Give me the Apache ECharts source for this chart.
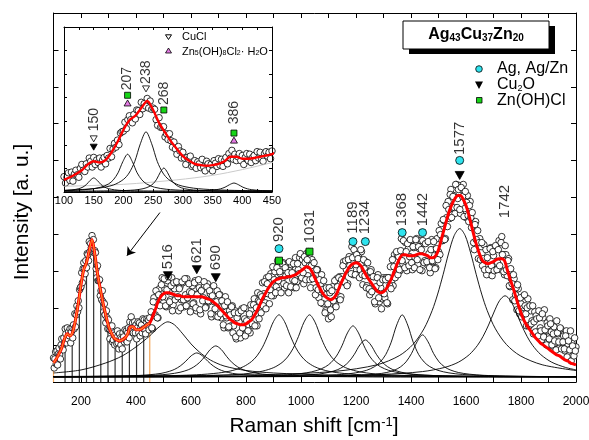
<!DOCTYPE html>
<html>
<head>
<meta charset="utf-8">
<script src="https://cdn.jsdelivr.net/npm/echarts@6/dist/echarts.min.js"></script>
<style>
  html, body { margin: 0; padding: 0; background: #fff; }
  #chart { width: 589px; height: 440px; }
</style>
</head>
<body>
<div id="chart"></div>
<script>
// intensity in plot pixels (a. u.), baseline at the bottom axis
const FONT = 'Liberation Sans, Arial, Helvetica, sans-serif';

// fitted envelope (red), 100..2000 step 10
const fitStart = 100, fitStep = 10;
const fitCounts = [
  19, 23, 28, 34, 43, 48, 46, 50, 62, 78,
  97, 112, 119, 131, 142, 128, 108, 93, 79, 67,
  56, 49, 44, 42, 41, 42, 44, 48, 55, 55,
  52, 52, 53, 55, 57, 59, 65, 72, 80, 85,
  88, 89, 89, 88, 87, 86, 86, 85, 85, 85,
  85, 85, 85, 85, 85, 84, 83, 82, 80, 78,
  75, 72, 69, 66, 63, 61, 59, 58, 57, 57,
  58, 60, 62, 66, 71, 77, 83, 88, 93, 97,
  100, 102, 103, 104, 104, 105, 105, 106, 107, 109,
  111, 113, 115, 114, 110, 104, 98, 93, 88, 85,
  83, 82, 84, 88, 95, 101, 107, 112, 116, 118,
  119, 118, 115, 110, 105, 101, 97, 93, 90, 89,
  90, 93, 98, 104, 111, 118, 124, 127, 127, 126,
  126, 126, 127, 128, 128, 127, 126, 124, 124, 126,
  132, 142, 152, 162, 171, 178, 183, 186, 186, 182,
  176, 167, 156, 145, 135, 127, 121, 119, 118, 119,
  120, 122, 123, 123, 121, 112, 103, 95, 86, 77,
  69, 62, 57, 53, 49, 45, 42, 39, 37, 35,
  33, 31, 29, 27, 26, 24, 22, 21, 19, 18,
  17
];

// measured points, 100..450 step 2.5
const lowStart = 100, lowStep = 2.5;
const lowCounts = [
  24, 14, 23, 30, 18, 31, 17, 28, 34, 27, 23, 37, 43, 34, 32, 44,
  39, 53, 48, 39, 54, 43, 50, 46, 53, 39, 50, 54, 44, 57, 53, 68,
  55, 67, 76, 70, 81, 74, 92, 94, 95, 109, 99, 113, 119, 113, 108, 121,
  114, 128, 127, 121, 140, 130, 138, 134, 146, 131, 142, 129, 131, 129, 113, 104,
  116, 101, 101, 102, 86, 91, 82, 91, 80, 70, 78, 67, 59, 71, 64, 53,
  62, 53, 43, 54, 51, 56, 40, 42, 49, 37, 47, 44, 38, 51, 39, 33,
  48, 44, 37, 43, 33, 49, 45, 40, 52, 42, 51, 40, 49, 54, 44, 60,
  53, 65, 51, 59, 49, 55, 60, 49, 57, 43, 54, 60, 49, 59, 46, 54,
  57, 49, 63, 53, 62, 52, 48, 60, 63, 56, 62, 52,
  64
];

// measured points, 455..2000 step 5
const highStart = 455, highStep = 5;
const highCounts = [
  70, 53, 84, 67, 79, 64, 93, 83, 104, 79,
  93, 75, 101, 90, 82, 104, 77, 93, 84, 99,
  71, 95, 82, 99, 75, 87, 103, 77, 90, 72,
  96, 79, 101, 71, 88, 94, 68, 92, 84, 96,
  75, 98, 80, 88, 65, 90, 80, 66, 91, 70,
  87, 64, 75, 54, 85, 64, 54, 71, 56, 76,
  56, 71, 43, 67, 60, 44, 73, 50, 63, 48,
  73, 57, 49, 72, 56, 83, 68, 56, 81, 80,
  69, 99, 88, 79, 104, 88, 78, 108, 105, 86,
  110, 95, 121, 91, 108, 102, 119, 94, 106, 117,
  89, 111, 117, 102, 94, 124, 100, 112, 124, 105,
  122, 98, 119, 128, 106, 116, 94, 122, 104, 112,
  94, 112, 84, 97, 107, 78, 88, 71, 93, 63,
  89, 65, 95, 81, 77, 103, 86, 105, 85, 105,
  120, 99, 112, 98, 125, 112, 135, 107, 126, 117,
  107, 127, 112, 130, 97, 113, 120, 96, 109, 87,
  112, 93, 105, 78, 93, 107, 80, 94, 83, 104,
  84, 104, 78, 104, 115, 101, 96, 127, 109, 127,
  125, 111, 143, 118, 129, 139, 111, 133, 125, 141,
  112, 134, 124, 143, 117, 133, 141, 111, 138, 121,
  139, 117, 128, 109, 142, 120, 132, 114, 143, 130,
  127, 158, 141, 161, 143, 164, 180, 163, 192, 167,
  186, 168, 197, 183, 196, 168, 192, 197, 173, 164,
  186, 160, 180, 154, 160, 132, 160, 141, 123, 143,
  135, 116, 137, 122, 107, 127, 112, 134, 106, 126,
  112, 135, 119, 141, 112, 145, 127, 107, 127, 106,
  123, 95, 103, 82, 103, 87, 72, 93, 68, 78,
  73, 86, 76, 56, 83, 56, 71, 61, 48, 70,
  66, 50, 71, 54, 42, 64, 72, 45, 59, 45,
  63, 50, 36, 55, 39, 61, 48, 34, 53, 39,
  46, 31, 51, 38, 27, 51, 39, 30, 44, 35
];

// measured points in between, 457.5..1997.5 step 5
const midStart = 457.5, midStep = 5;
const midCounts = [
  54, 80, 66, 91, 64, 87, 76, 97, 85, 103,
  76, 92, 105, 80, 96, 71, 99, 82, 100, 85,
  93, 74, 100, 82, 103, 76, 84, 98, 70, 89,
  78, 99, 74, 87, 102, 72, 91, 81, 100, 74,
  95, 81, 91, 68, 86, 96, 73, 80, 65, 87,
  68, 81, 57, 76, 66, 80, 55, 67, 75, 49,
  69, 45, 64, 69, 49, 71, 54, 74, 46, 61,
  51, 68, 77, 58, 77, 56, 74, 89, 63, 87,
  85, 76, 100, 73, 98, 105, 92, 86, 115, 102,
  89, 114, 101, 110, 89, 118, 98, 114, 96, 109,
  120, 95, 109, 118, 101, 94, 118, 108, 128, 104,
  109, 125, 102, 122, 130, 102, 116, 103, 119, 87,
  112, 92, 102, 79, 92, 101, 69, 94, 78, 94,
  72, 91, 81, 101, 75, 95, 104, 82, 102, 116,
  100, 121, 96, 122, 116, 108, 124, 132, 107, 127,
  123, 104, 132, 107, 122, 106, 94, 119, 93, 110,
  90, 105, 80, 95, 104, 84, 99, 73, 102, 88,
  102, 79, 104, 96, 93, 122, 115, 104, 130, 107,
  112, 131, 121, 141, 114, 130, 138, 116, 142, 119,
  135, 114, 142, 122, 135, 112, 132, 141, 119, 138,
  120, 140, 114, 132, 121, 140, 113, 133, 122, 151,
  147, 141, 162, 142, 176, 155, 172, 187, 164, 185,
  174, 197, 174, 192, 172, 194, 185, 165, 190, 179,
  166, 176, 164, 169, 139, 157, 142, 151, 139, 122,
  139, 123, 112, 132, 124, 112, 133, 116, 130, 111,
  136, 112, 132, 116, 139, 127, 110, 136, 112, 121,
  96, 113, 98, 107, 81, 94, 97, 71, 84, 65,
  68, 87, 68, 74, 56, 76, 58, 76, 60, 50,
  63, 46, 64, 51, 68, 45, 52, 37, 56, 43,
  58, 37, 48, 41, 32, 49, 40, 54, 33, 40,
  33, 46, 25, 41, 32, 21, 36, 26, 31
];

// fitted components (black), [shift, intensity]
const c516 = [[100, 9], [200, 12], [290, 19], [350, 26], [400, 35], [450, 46], [480, 54], [516, 60], [540, 57], [570, 48], [600, 38], [630, 30], [670, 22], [720, 16], [800, 11.5], [900, 9], [1100, 7], [1400, 6], [2000, 5.3]];
const c621 = [[100, 5.2], [321, 5.8], [401, 6.4], [451, 7.3], [491, 8.6], [521, 10.6], [541, 12.7], [561, 16], [581, 20.7], [601, 26.2], [621, 29], [641, 26.2], [661, 20.7], [681, 16], [701, 12.7], [721, 10.6], [751, 8.6], [791, 7.3], [841, 6.4], [921, 5.8], [1071, 5.4], [1321, 5.1], [2000, 5]];
const c690 = [[100, 5.3], [240, 5.5], [390, 6], [470, 6.8], [520, 7.9], [560, 9.7], [590, 12.2], [610, 15], [630, 19.2], [650, 25.3], [670, 32.4], [690, 36], [710, 32.4], [730, 25.3], [750, 19.2], [770, 15], [790, 12.2], [820, 9.7], [860, 7.9], [910, 6.8], [990, 6], [1140, 5.5], [1390, 5.2], [2000, 5.1]];
const c920 = [[100, 5.3], [220, 5.4], [470, 6], [620, 7.2], [700, 9], [750, 11.4], [790, 15.2], [820, 20.4], [840, 26.1], [860, 34.7], [880, 46.8], [900, 60.3], [920, 67], [940, 60.3], [960, 46.8], [980, 34.7], [1000, 26.1], [1020, 20.4], [1050, 15.2], [1090, 11.4], [1140, 9], [1220, 7.2], [1370, 6], [1620, 5.4], [2000, 5.2]];
const c1031 = [[100, 5.2], [331, 5.4], [581, 5.9], [731, 7], [811, 8.6], [861, 10.9], [901, 14.4], [931, 19.4], [951, 24.9], [971, 33.3], [991, 45.5], [1011, 59.7], [1031, 67], [1051, 59.7], [1071, 45.5], [1091, 33.3], [1111, 24.9], [1131, 19.4], [1161, 14.4], [1201, 10.9], [1251, 8.6], [1331, 7], [1481, 5.9], [1731, 5.4], [2000, 5.2]];
const c1189 = [[100, 5.1], [489, 5.3], [739, 5.6], [889, 6.4], [969, 7.5], [1019, 9.1], [1059, 11.6], [1089, 15.2], [1109, 19.3], [1129, 25.9], [1149, 36.1], [1169, 49], [1189, 56], [1209, 49], [1229, 36.1], [1249, 25.9], [1269, 19.3], [1289, 15.2], [1319, 11.6], [1359, 9.1], [1409, 7.5], [1489, 6.4], [1639, 5.6], [1889, 5.3], [2000, 5.2]];
const c1234 = [[100, 5.1], [534, 5.2], [784, 5.5], [934, 6], [1014, 6.8], [1064, 7.9], [1104, 9.8], [1134, 12.4], [1154, 15.4], [1174, 20.2], [1194, 27.6], [1214, 36.9], [1234, 42], [1254, 36.9], [1274, 27.6], [1294, 20.2], [1314, 15.4], [1334, 12.4], [1364, 9.8], [1404, 7.9], [1454, 6.8], [1534, 6], [1684, 5.5], [1934, 5.2], [2000, 5.2]];
const c1368 = [[100, 5.2], [668, 5.3], [918, 5.6], [1068, 6.4], [1148, 7.5], [1198, 9.1], [1238, 11.6], [1268, 15.4], [1288, 19.9], [1308, 27.3], [1328, 39.7], [1348, 56.8], [1368, 67], [1388, 56.8], [1408, 39.7], [1428, 27.3], [1448, 19.9], [1468, 15.4], [1498, 11.6], [1538, 9.1], [1588, 7.5], [1668, 6.4], [1818, 5.6], [2000, 5.3]];
const c1442 = [[100, 5.1], [742, 5.2], [992, 5.4], [1142, 5.9], [1222, 6.7], [1272, 7.8], [1312, 9.5], [1342, 12.1], [1362, 15.1], [1382, 20.1], [1402, 28.5], [1422, 40.1], [1442, 47], [1462, 40.1], [1482, 28.5], [1502, 20.1], [1522, 15.1], [1542, 12.1], [1572, 9.5], [1612, 7.8], [1662, 6.7], [1742, 5.9], [1892, 5.4], [2000, 5.3]];
const c1577 = [[100, 5.5], [877, 7.4], [1127, 10.7], [1277, 17.2], [1357, 26.2], [1407, 37.4], [1447, 53], [1477, 71.3], [1497, 87.7], [1517, 107.4], [1537, 128.6], [1557, 146], [1577, 153], [1597, 146], [1617, 128.6], [1637, 107.4], [1657, 87.7], [1677, 71.3], [1707, 53], [1747, 37.4], [1797, 26.2], [1877, 17.2], [2000, 11.4]];
const c1742 = [[100, 5.2], [1042, 6], [1292, 7.5], [1442, 10.4], [1522, 14.5], [1572, 19.7], [1612, 27.3], [1642, 36.6], [1662, 45.5], [1682, 56.8], [1702, 69.8], [1722, 81.2], [1742, 86], [1762, 81.2], [1782, 69.8], [1802, 56.8], [1822, 45.5], [1842, 36.6], [1872, 27.3], [1912, 19.7], [1962, 14.5], [2000, 12.1]];

// low-shift components, only shown in the inset
const ci150 = [[100, 2.2], [115, 3.4], [125, 5.2], [132, 7.8], [138, 11.9], [144, 18.1], [150, 22], [156, 18.1], [162, 11.9], [168, 7.8], [175, 5.2], [185, 3.4], [200, 2.2], [225, 1.6], [260, 1.3], [310, 1.1], [450, 1]];
const ci207 = [[100, 2.3], [112, 2.6], [142, 4.3], [162, 7.5], [175, 12.6], [183, 18.9], [191, 30], [199, 47.4], [207, 59], [215, 47.4], [223, 30], [231, 18.9], [239, 12.6], [252, 7.5], [272, 4.3], [302, 2.6], [347, 1.7], [407, 1.4], [450, 1.3]];
const ci238 = [[100, 2.7], [123, 3.5], [158, 6], [183, 10.9], [200, 19.6], [209.5, 29.6], [219, 47.5], [228.5, 75.4], [238, 94], [247.5, 75.4], [257, 47.5], [266.5, 29.6], [276, 19.6], [293, 10.9], [318, 6], [353, 3.5], [398, 2.3], [450, 1.7]];
const ci268 = [[100, 1.3], [158, 1.5], [193, 2], [218, 3.1], [233, 5.1], [243, 8.3], [250, 12.9], [256, 20], [262, 30.7], [268, 37.5], [274, 30.7], [280, 20], [286, 12.9], [293, 8.3], [303, 5.1], [318, 3.1], [343, 2], [378, 1.5], [428, 1.2], [450, 1.2]];
const ci386 = [[100, 1], [276, 1.2], [316, 1.6], [341, 2.3], [356, 3.6], [363.5, 5], [371, 7.5], [378.5, 11.4], [386, 14], [393.5, 11.4], [401, 7.5], [408.5, 5], [416, 3.6], [431, 2.3], [450, 1.8]];

// hatched range 100-450 in the main plot (edges orange)
const hatchX = [100, 142, 168, 194, 220, 246, 272, 298, 324, 350, 376, 402, 428, 450];
const hatchV = [19, 44, 49, 86, 119, 134, 90, 58, 43, 42, 53, 52, 55, 59];

// band assignments, main plot
const mainCu2O = [[516, 106], [621, 112], [690, 104], [1577, 206]];
const mainAg = [[920, 133], [1189, 140], [1234, 140], [1368, 149], [1442, 149], [1577, 221]];
const mainZnOHCl = [[920, 121], [1031, 130]];
const mainLabels = [[516, 125, '516'], [621, 131, '621'], [690, 124, '690'], [920, 152, '920'], [1031, 155, '1031'],
  [1189, 164, '1189'], [1234, 164, '1234'], [1368, 172, '1368'], [1442, 172, '1442'], [1577, 243, '1577'], [1742, 180, '1742']];

// band assignments, inset
const insetCu2O = [[150, 70]];
const insetCuCl = [[150, 83], [238, 161]];
const insetZnHyd = [[207, 139], [386, 81]];
const insetZnOHCl = [[207, 151], [268, 128], [386, 92]];
const insetLabels = [[150, 113, '150'], [207, 177, '207'], [238, 187, '238'], [268, 154, '268'], [386, 124, '386']];

const toPairs = (start, step, vals) => vals.map((v, i) => [start + step * i, v]);
const spectrum = toPairs(lowStart, lowStep, lowCounts)
  .concat(toPairs(highStart, highStep, highCounts))
  .concat(toPairs(midStart, midStep, midCounts));
const fitLine = toPairs(fitStart, fitStep, fitCounts);

const CYAN = '#2fe3ee', GREEN = '#17d417', MAGENTA = '#e47ae4';

function axis(opt) {
  return Object.assign({
    type: 'value',
    axisLine: { show: true, onZero: false, lineStyle: { color: '#000', width: 1 } },
    axisTick: { show: true, inside: true, length: 5, lineStyle: { color: '#000', width: 1 } },
    axisLabel: { show: false },
    splitLine: { show: false }
  }, opt);
}

function curve(data, grid, color, width, z) {
  return {
    type: 'line', xAxisIndex: grid * 2, yAxisIndex: grid * 2, data: data,
    showSymbol: false, smooth: 0.3, clip: true, silent: true, z: z,
    lineStyle: { color: color, width: width }
  };
}

function marks(data, grid, symbol, size, fill, rot, z) {
  return {
    type: 'scatter', xAxisIndex: grid * 2, yAxisIndex: grid * 2, data: data,
    symbol: symbol, symbolSize: size, symbolRotate: rot, silent: true, z: z,
    itemStyle: { color: fill, borderColor: '#000', borderWidth: 0.8, opacity: 1 }
  };
}

function labels(data, grid, size, z) {
  return {
    type: 'scatter', xAxisIndex: grid * 2, yAxisIndex: grid * 2, data: data,
    symbolSize: 1, itemStyle: { color: 'rgba(0,0,0,0)' }, silent: true, z: z,
    label: {
      show: true, position: 'inside', rotate: 90, formatter: (p) => p.data[2],
      fontSize: size, fontFamily: FONT, color: '#000'
    }
  };
}

const series = [];

// main plot
series.push({
  type: 'bar', xAxisIndex: 0, yAxisIndex: 0, barWidth: 1.2, silent: true, z: 2,
  data: hatchX.map((x, i) => ({
    value: [x, hatchV[i]],
    itemStyle: { color: (i === 0 || i === hatchX.length - 1) ? '#f2a65a' : '#333' }
  })),
  markLine: {
    silent: true, symbol: ['none', 'arrow'], symbolSize: 8, label: { show: false },
    lineStyle: { color: '#000', width: 1, type: 'solid' },
    data: [[{ coord: [487, 169] }, { coord: [367, 126] }]]
  }
});
series.push({
  type: 'scatter', xAxisIndex: 0, yAxisIndex: 0, data: spectrum, symbol: 'circle', symbolSize: 6.5,
  silent: true, z: 3, itemStyle: { color: '#fff', borderColor: '#000', borderWidth: 0.8, opacity: 1 }
});
[c516, c621, c690, c920, c1031, c1189, c1234, c1368, c1442, c1577, c1742].forEach((c) => {
  series.push(curve(c, 0, '#000', 0.9, 4));
});
series.push(curve(fitLine, 0, '#ff0000', 3, 5));
series.push(curve(fitLine.filter((p) => p[0] <= 450), 0, '#ff8a2a', 1.2, 6));
series.push(marks(mainCu2O, 0, 'triangle', [9, 8], '#000', 180, 7));
series.push(marks(mainAg, 0, 'circle', 8, CYAN, 0, 7));
series.push(marks(mainZnOHCl, 0, 'rect', 7, GREEN, 0, 7));
series.push(labels(mainLabels, 0, 15, 7));

// inset
series.push({
  type: 'scatter', xAxisIndex: 2, yAxisIndex: 2, data: spectrum, symbol: 'circle', symbolSize: 6.5,
  clip: true, silent: true, z: 12, itemStyle: { color: '#fff', borderColor: '#000', borderWidth: 0.8, opacity: 1 }
});
series.push(curve(c516, 1, '#c4c4c4', 0.9, 13));
[ci150, ci207, ci238, ci268, ci386].forEach((c) => {
  series.push(curve(c, 1, '#000', 0.9, 13));
});
series.push(curve(fitLine, 1, '#ff0000', 2.4, 14));
series.push(marks(insetCu2O, 1, 'triangle', [7, 6], '#000', 180, 15));
series.push(marks(insetCuCl, 1, 'triangle', [7, 6], '#fff', 180, 15));
series.push(marks(insetZnHyd, 1, 'triangle', [7, 6], MAGENTA, 0, 15));
series.push(marks(insetZnOHCl, 1, 'rect', 6, GREEN, 0, 15));
series.push(labels(insetLabels, 1, 14, 15));

const sub = (size, subSize, drop, weight) => ({
  m: { fontSize: size, lineHeight: size, fontWeight: weight, fontFamily: FONT, fill: '#000', verticalAlign: 'top', padding: [0, 0, drop, 0] },
  s: { fontSize: subSize, lineHeight: subSize, fontWeight: weight, fontFamily: FONT, fill: '#000', verticalAlign: 'bottom' }
});

const graphic = [
  // sample box with shadow
  { type: 'rect', z: 100, shape: { x: 409, y: 26, width: 146, height: 28 }, style: { fill: '#000' } },
  { type: 'rect', z: 100, shape: { x: 403, y: 21, width: 146, height: 28 }, style: { fill: '#fff', stroke: '#000', lineWidth: 1 } },
  { type: 'text', z: 101, x: 476, y: 35, style: {
      text: '{m|Ag}{s|43}{m|Cu}{s|37}{m|Zn}{s|20}', rich: sub(16, 10, 3, 'bold'), align: 'center', verticalAlign: 'middle' } },
  // main legend
  { type: 'circle', z: 101, shape: { cx: 479, cy: 69, r: 3.3 }, style: { fill: CYAN, stroke: '#000', lineWidth: 0.8 } },
  { type: 'polygon', z: 101, shape: { points: [[475, 81.5], [483, 81.5], [479, 89]] }, style: { fill: '#000' } },
  { type: 'rect', z: 101, shape: { x: 476.5, y: 97.5, width: 5.5, height: 5.5 }, style: { fill: GREEN, stroke: '#000', lineWidth: 0.8 } },
  { type: 'text', z: 101, x: 497, y: 69, style: { text: 'Ag, Ag/Zn', fontSize: 16, fontFamily: FONT, fill: '#000', verticalAlign: 'middle' } },
  { type: 'text', z: 101, x: 497, y: 85, style: { text: '{m|Cu}{s|2}{m|O}', rich: sub(16, 9, 3, 'normal'), verticalAlign: 'middle' } },
  { type: 'text', z: 101, x: 497, y: 100.5, style: { text: 'Zn(OH)Cl', fontSize: 16, fontFamily: FONT, fill: '#000', verticalAlign: 'middle' } },
  // inset legend
  { type: 'polygon', z: 101, shape: { points: [[165.5, 34.8], [171.5, 34.8], [168.5, 39.5]] }, style: { fill: '#fff', stroke: '#000', lineWidth: 1 } },
  { type: 'polygon', z: 101, shape: { points: [[165.5, 53], [171.5, 53], [168.5, 48]] }, style: { fill: MAGENTA, stroke: '#000', lineWidth: 0.8 } },
  { type: 'text', z: 101, x: 182, y: 37, style: { text: 'CuCl', fontSize: 11, fontFamily: FONT, fill: '#000', verticalAlign: 'middle' } },
  { type: 'text', z: 101, x: 182, y: 51.5, style: {
      text: '{m|Zn}{s|5}{m|(OH)}{s|8}{m|Cl}{s|2}{m|· H}{s|2}{m|O}', rich: sub(11, 7, 2, 'normal'), verticalAlign: 'middle' } },
  // axis titles
  { type: 'text', z: 101, x: 314, y: 426, style: {
      text: '{m|Raman shift [cm}{p|-1}{m|]}', align: 'center', verticalAlign: 'middle',
      rich: {
        m: { fontSize: 21, lineHeight: 21, fontFamily: FONT, fill: '#000', verticalAlign: 'bottom', padding: [4, 0, 0, 0] },
        p: { fontSize: 13, lineHeight: 13, fontFamily: FONT, fill: '#000', verticalAlign: 'top' }
      } } },
  { type: 'text', z: 101, x: 22, y: 212, rotation: Math.PI / 2, style: {
      text: 'Intensity [a. u.]', fontSize: 21, fontFamily: FONT, fill: '#000', align: 'center', verticalAlign: 'middle' } }
];

const chart = echarts.init(document.getElementById('chart'));
chart.setOption({
  animation: false,
  backgroundColor: '#fff',
  textStyle: { fontFamily: FONT },
  grid: [
    { left: 53.5, top: 13, width: 522.5, height: 369, containLabel: false, outerBoundsMode: 'none' },
    { left: 64, top: 27, width: 208, height: 165, containLabel: false, outerBoundsMode: 'none',
      show: true, backgroundColor: '#fff', borderWidth: 0, z: 10 }
  ],
  xAxis: [
    axis({ gridIndex: 0, min: 100, max: 2000, interval: 100,
      axisLabel: { show: true, formatter: (v) => (v % 200 === 0 ? String(v) : ''), color: '#000',
        fontSize: 12, fontFamily: FONT, margin: 14, showMinLabel: true, showMaxLabel: true } }),
    axis({ gridIndex: 0, position: 'top', min: 100, max: 2000, interval: 100 }),
    axis({ gridIndex: 1, min: 100, max: 450, interval: 25, z: 13,
      axisTick: { show: true, inside: true, length: 3, lineStyle: { color: '#000', width: 1 } },
      axisLabel: { show: true, formatter: (v) => (v % 50 === 0 ? String(v) : ''), color: '#000',
        fontSize: 11, fontFamily: FONT, margin: 3, showMinLabel: true, showMaxLabel: true } }),
    axis({ gridIndex: 1, position: 'top', min: 100, max: 450, interval: 25, z: 13,
      axisTick: { show: true, inside: true, length: 3, lineStyle: { color: '#000', width: 1 } } })
  ],
  yAxis: [
    axis({ gridIndex: 0, min: 0, max: 368, interval: 36.8 }),
    axis({ gridIndex: 0, position: 'right', min: 0, max: 368, interval: 36.8 }),
    axis({ gridIndex: 1, min: 0, max: 257.6, interval: 36.8, z: 13,
      axisTick: { show: true, inside: true, length: 3, lineStyle: { color: '#000', width: 1 } } }),
    axis({ gridIndex: 1, position: 'right', min: 0, max: 257.6, interval: 36.8, z: 13,
      axisTick: { show: true, inside: true, length: 3, lineStyle: { color: '#000', width: 1 } } })
  ],
  series: series,
  graphic: graphic
});
</script>
</body>
</html>
